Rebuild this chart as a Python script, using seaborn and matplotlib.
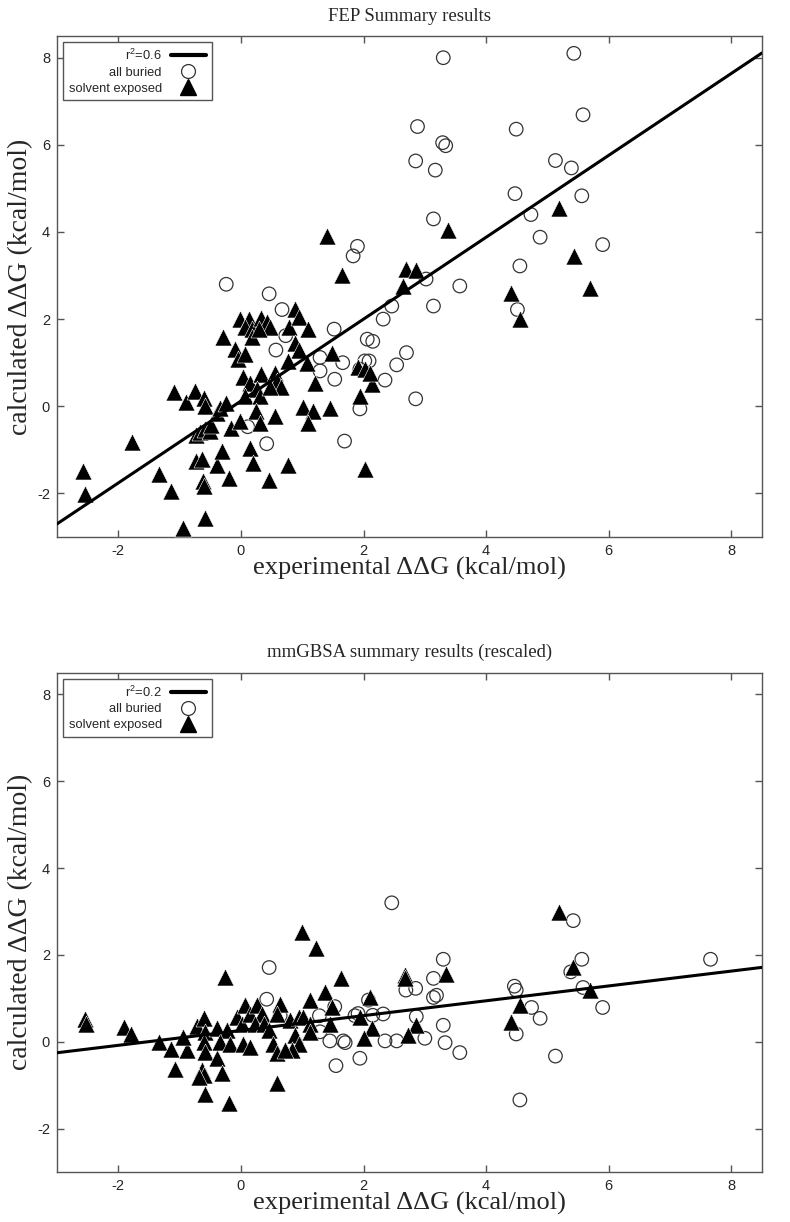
import matplotlib
matplotlib.use("Agg")
import pandas as pd
import seaborn as sns
from matplotlib import pyplot as plt
from matplotlib.lines import Line2D

# ---- FEP panel ----
fep_buried_x = [3.30, 5.43, 5.58, 2.88, 4.49, 3.29, 3.34, 2.85, 3.17, 5.13, 5.39, 4.47, 5.56,
                3.14, 4.73, 4.88, 5.90, 4.55, 1.90, 1.83, 3.02, 3.57, 2.46, 3.14, 2.32, 4.51,
                -0.24, 0.46, 0.67, 0.73, 0.57, 1.52, 2.06, 2.15, 1.29, 1.29, 1.66, 1.53, 2.02,
                2.09, 1.94, 2.54, 2.70, 2.35, 1.94, 2.85, 1.69, 0.42, 0.11]
fep_buried_y = [8.00, 8.10, 6.69, 6.42, 6.36, 6.05, 5.98, 5.63, 5.42, 5.64, 5.47, 4.88, 4.83,
                4.30, 4.40, 3.88, 3.71, 3.22, 3.67, 3.45, 2.92, 2.76, 2.30, 2.30, 2.00, 2.22,
                2.80, 2.58, 2.22, 1.62, 1.29, 1.77, 1.54, 1.49, 1.12, 0.81, 1.00, 0.62, 1.04,
                1.04, 0.85, 0.95, 1.23, 0.60, -0.06, 0.17, -0.80, -0.86, -0.47]
fep_exposed_x = [3.38, 5.19, 5.43, 5.69, 2.69, 2.86, 2.65, 4.41, 4.55, 1.40, 1.65,
                 -2.57, -2.55, -1.78, -1.33, -1.14, -0.94, -0.58, -0.62, -0.61, -0.73, -0.64,
                 -0.39, -0.31, -0.19, 0.14, 0.19, 0.45, 0.77, 2.02,
                 -1.09, -0.89, -0.75, -0.61, -0.58, -0.73, -0.66, -0.58, -0.50, -0.49, -0.39,
                 -0.34, -0.25, -0.16,
                 -0.29, -0.09, -0.04, 0.07, -0.01, 0.13, 0.07, 0.18, 0.18, 0.32, 0.42, 0.48, 0.29,
                 0.03, 0.15, 0.07, -0.01, 0.33, 0.26, 0.31, 0.25, 0.31, 0.55, 0.58, 0.65, 0.48, 0.56,
                 0.88, 0.79, 0.94, 1.10, 0.88, 0.95, 0.77, 1.07, 1.21, 1.02, 1.18, 1.10, 1.45,
                 1.48, 1.94, 1.91, 2.02, 2.13, 2.10]
fep_exposed_y = [4.04, 4.55, 3.44, 2.72, 3.15, 3.13, 2.76, 2.59, 2.00, 3.90, 3.02,
                 -1.49, -2.01, -0.82, -1.55, -1.94, -2.80, -2.57, -1.72, -1.82, -1.26, -1.22,
                 -1.36, -1.02, -1.65, -0.96, -1.30, -1.70, -1.36, -1.45,
                 0.33, 0.10, 0.35, 0.20, 0.00, -0.66, -0.59, -0.53, -0.57, -0.42, -0.15,
                 -0.03, 0.08, -0.49,
                 1.58, 1.31, 1.08, 1.20, 2.00, 2.00, 1.81, 1.77, 1.58, 2.03, 1.93, 1.81, 1.77,
                 0.66, 0.54, 0.24, -0.34, 0.74, 0.39, 0.24, -0.11, -0.38, 0.77, 0.58, 0.44, 0.44, -0.23,
                 2.23, 1.81, 2.04, 1.77, 1.46, 1.29, 1.04, 1.00, 0.54, -0.02, -0.11, -0.38, -0.03,
                 1.23, 0.24, 0.89, 0.85, 0.50, 0.77]

# ---- mmGBSA panel ----
gbsa_buried_x = [0.46, 0.42, 0.64, 1.28, 1.29, 1.53, 1.45, 1.67, 1.70, 1.55, 1.94, 1.86, 1.91,
                 2.08, 2.15, 2.32, 2.35, 2.54, 2.46, 2.69, 2.85, 2.86, 3.00, 3.14, 3.14, 3.19,
                 3.30, 3.30, 3.33, 3.57, 5.42, 5.56, 7.66, 5.38, 5.58, 5.90, 5.13, 4.55, 4.46,
                 4.49, 4.74, 4.88, 4.49]
gbsa_buried_y = [1.71, 0.98, 0.60, 0.60, 0.23, 0.81, 0.02, 0.02, -0.02, -0.55, -0.38, 0.60, 0.65,
                 0.96, 0.61, 0.64, 0.02, 0.02, 3.20, 1.19, 1.23, 0.58, 0.08, 1.46, 1.02, 1.07,
                 1.90, 0.38, -0.02, -0.25, 2.79, 1.90, 1.90, 1.61, 1.25, 0.79, -0.33, -1.34, 1.28,
                 1.19, 0.79, 0.54, 0.18]
gbsa_exposed_x = [-2.54, -2.52, -1.91, -1.79, -1.33, -1.14, -0.88, -1.07, -0.94, -0.72, -0.61,
                  -0.58, -0.61, -0.58, -0.39, -0.64, -0.61, -0.69, -0.31, -0.58, -0.19, -0.39,
                  -0.23, -0.34, -0.18, -0.26, -0.07, 0.01, 0.07, 0.15, 0.04, 0.15, 0.26, 0.34,
                  0.23, 0.37, 0.45, 0.64, 0.58, 0.53, 0.58, 0.58, 0.80, 0.94, 0.88, 0.94, 0.83,
                  0.72, 1.02, 1.13, 1.13, 1.13, 0.99, 1.22, 1.37, 1.48, 1.45, 1.64, 2.10, 1.94,
                  2.13, 2.01, 2.67, 2.68, 2.86, 2.73, 3.35, 5.19, 5.42, 5.69, 4.55, 4.41]
gbsa_exposed_y = [0.52, 0.42, 0.35, 0.19, 0.00, -0.17, -0.19, -0.63, 0.12, 0.36, 0.54,
                  0.23, 0.00, -0.23, -0.38, -0.65, -0.77, -0.81, -0.71, -1.21, -1.42, 0.31,
                  0.27, 0.00, -0.04, 1.50, 0.58, 0.42, 0.85, 0.65, -0.04, -0.12, 0.85, 0.65,
                  0.42, 0.42, 0.27, 0.88, 0.65, -0.04, -0.27, -0.96, 0.50, 0.58, 0.15, -0.04, -0.19,
                  -0.19, 0.58, 0.96, 0.42, 0.23, 2.53, 2.15, 1.15, 0.81, 0.42, 1.48, 1.04, 0.58,
                  0.31, 0.08, 1.54, 1.46, 0.38, 0.15, 1.56, 3.00, 1.73, 1.19, 0.85, 0.46]

# fitted lines
panel_titles = ["FEP Summary results", "mmGBSA summary results (rescaled)"]
r2_labels = ["r$^2$=0.6", "r$^2$=0.2"]
fit_slope = [0.94, 0.171]
fit_intercept = [0.12, 0.26]
ticks = [-2, 0, 2, 4, 6, 8]

sns.set_style("ticks")
plt.rcParams["font.family"] = ["Liberation Sans", "DejaVu Sans"]
plt.rcParams["mathtext.fontset"] = "custom"
plt.rcParams["mathtext.rm"] = "Liberation Sans"
plt.rcParams["axes.unicode_minus"] = False

fig = plt.figure(figsize=(7.9, 12.22), dpi=100)
axes = [fig.add_axes([0.0722, 0.5606, 0.8924, 0.4100]),
        fig.add_axes([0.0722, 0.0409, 0.8924, 0.4086])]

panels = [
    (fep_buried_x, fep_buried_y, fep_exposed_x, fep_exposed_y),
    (gbsa_buried_x, gbsa_buried_y, gbsa_exposed_x, gbsa_exposed_y),
]

serif = ["Liberation Serif", "DejaVu Serif"]
frame = "#555555"

for i, (ax, (bx, by, ex, ey)) in enumerate(zip(axes, panels)):
    buried = pd.DataFrame({"x": bx, "y": by})
    exposed = pd.DataFrame({"x": ex, "y": ey})
    sns.scatterplot(data=buried, x="x", y="y", ax=ax, marker="o", s=95,
                    facecolor="none", edgecolor="#333333", linewidth=0.9, zorder=3)
    sns.scatterplot(data=exposed, x="x", y="y", ax=ax, marker="^", s=150,
                    color="black", edgecolor="white", linewidth=0.4, zorder=4)
    ax.axline((0, fit_intercept[i]), slope=fit_slope[i], color="black", lw=2.2, zorder=5)

    ax.set_xlim(-3, 8.5)
    ax.set_ylim(-3, 8.5)
    ax.set_xticks(ticks)
    ax.set_yticks(ticks)
    ax.tick_params(direction="in", top=True, right=True, length=5, width=1,
                   color=frame, labelsize=10.5, pad=5)
    for sp in ax.spines.values():
        sp.set_color(frame)
        sp.set_linewidth(1)
    ax.set_xlabel("experimental ΔΔG (kcal/mol)", family=serif, fontsize=19, labelpad=-1)
    ax.set_ylabel("calculated ΔΔG (kcal/mol)", family=serif, fontsize=20, labelpad=3)
    ax.set_title(panel_titles[i], family=serif, fontsize=13.5, pad=11)

    handles = [
        Line2D([], [], color="black", lw=3),
        Line2D([], [], marker="o", ls="none", ms=10, mfc="none", mec="#333333", mew=0.9),
        Line2D([], [], marker="^", ls="none", ms=12, color="black"),
    ]
    labels = [r2_labels[i], "all buried", "solvent exposed"]
    leg = ax.legend(handles, labels, loc="upper left", markerfirst=False, fontsize=9.3,
                    frameon=True, fancybox=False, edgecolor=frame, framealpha=1,
                    borderaxespad=0.45, labelspacing=0.3, handlelength=2.7,
                    handletextpad=0.7, borderpad=0.45)
    leg.get_frame().set_linewidth(1)
    for t in leg.get_texts():
        t.set_ha("right")

fig.savefig("out.png", dpi=100)
